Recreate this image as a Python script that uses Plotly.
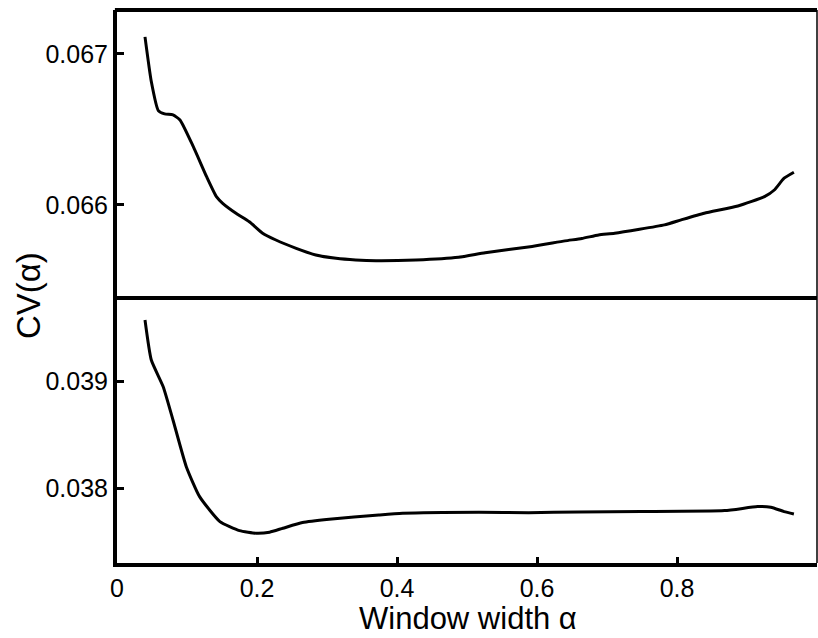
import plotly.graph_objects as go

# ---- data ----
alpha_top = [0.040, 0.049, 0.059, 0.068, 0.080, 0.090, 0.109, 0.128, 0.142, 0.151,
             0.170, 0.189, 0.208, 0.227, 0.256, 0.284, 0.313, 0.341, 0.370, 0.427,
             0.488, 0.526, 0.593, 0.640, 0.664, 0.688, 0.711, 0.782, 0.806, 0.839,
             0.887, 0.925, 0.939, 0.953, 0.967]
cv_top = [0.067113, 0.066817, 0.066625, 0.066603, 0.066596, 0.066563, 0.066386, 0.066187,
          0.066055, 0.066011, 0.065945, 0.065889, 0.065813, 0.065768, 0.065713, 0.065669,
          0.065647, 0.065636, 0.065631, 0.065636, 0.065654, 0.065684, 0.065725, 0.065762,
          0.065778, 0.065801, 0.065813, 0.065868, 0.065901, 0.065945, 0.065993, 0.066055,
          0.066099, 0.066177, 0.066217]

alpha_bot = [0.040, 0.049, 0.066, 0.080, 0.099, 0.118, 0.147, 0.175, 0.199, 0.218,
             0.237, 0.265, 0.303, 0.374, 0.408, 0.517, 0.588, 0.659, 0.749, 0.868,
             0.915, 0.934, 0.953, 0.967]
cv_bot = [0.039578, 0.039203, 0.038953, 0.038641, 0.038203, 0.037922, 0.037688, 0.037603,
          0.037579, 0.037589, 0.037626, 0.037679, 0.037710, 0.037750, 0.037766, 0.037776,
          0.037772, 0.037779, 0.037782, 0.037791, 0.037829, 0.037823, 0.037782, 0.037760]

x_ticks = [0, 0.2, 0.4, 0.6, 0.8, 1]
x_tick_text = ["0", "0.2", "0.4", "0.6", "0.8", "1"]
y_top_ticks = [0.066, 0.067]
y_top_text = ["0.066", "0.067"]
y_bot_ticks = [0.038, 0.039]
y_bot_text = ["0.038", "0.039"]

x_title = "Window width \u03b1"
y_title = "CV(\u03b1)"

# ---- figure ----
FONT = "Liberation Sans, Arial, sans-serif"
split = 0.4828
y_top_range = [0.065397, 0.067291]
y_bot_range = [0.0373, 0.039803]

fig = go.Figure()
fig.add_trace(go.Scatter(x=alpha_top, y=cv_top, mode="lines", xaxis="x", yaxis="y",
                         line=dict(color="black", width=3, shape="spline", smoothing=0.5),
                         showlegend=False, hoverinfo="skip"))
fig.add_trace(go.Scatter(x=alpha_bot, y=cv_bot, mode="lines", xaxis="x2", yaxis="y2",
                         line=dict(color="black", width=3, shape="spline", smoothing=0.5),
                         showlegend=False, hoverinfo="skip"))

tickfont = dict(family=FONT, size=25, color="black")

fig.update_layout(
    width=818, height=638,
    margin=dict(l=117, r=1, t=10, b=75),
    paper_bgcolor="white", plot_bgcolor="white",
    font=dict(family=FONT, color="black"),
    xaxis=dict(domain=[0, 1], range=[0, 1], anchor="y", showgrid=False, zeroline=False,
               showticklabels=False, ticks="", showline=True, linecolor="black", linewidth=4),
    yaxis=dict(domain=[split, 1], range=y_top_range, anchor="x", showgrid=False, zeroline=False,
               tickvals=y_top_ticks, ticktext=y_top_text, ticks="inside", ticklen=7,
               tickwidth=3, tickcolor="black", tickfont=tickfont,
               showline=True, linecolor="black", linewidth=4),
    yaxis3=dict(overlaying="y", side="right", anchor="x", range=y_top_range,
                showgrid=False, zeroline=False, tickvals=y_top_ticks, ticks="inside",
                ticklen=6, tickwidth=3, tickcolor="black", showticklabels=False, showline=False),
    xaxis2=dict(domain=[0, 1], range=[0, 1], anchor="y2", showgrid=False, zeroline=False,
                tickvals=x_ticks, ticktext=x_tick_text, ticks="inside", ticklen=6,
                tickwidth=3, tickcolor="black", tickfont=tickfont,
                showline=True, linecolor="black", linewidth=4),
    xaxis3=dict(overlaying="x2", side="top", anchor="y2", range=[0, 1], showgrid=False,
                zeroline=False, tickvals=x_ticks, ticks="inside", ticklen=6, tickwidth=3,
                tickcolor="black", showticklabels=False, showline=False),
    yaxis2=dict(domain=[0, split], range=y_bot_range, anchor="x2", showgrid=False, zeroline=False,
                tickvals=y_bot_ticks, ticktext=y_bot_text, ticks="inside", ticklen=7,
                tickwidth=3, tickcolor="black", tickfont=tickfont,
                showline=True, linecolor="black", linewidth=4),
    yaxis4=dict(overlaying="y2", side="right", anchor="x2", range=y_bot_range,
                showgrid=False, zeroline=False, tickvals=y_bot_ticks, ticks="inside",
                ticklen=6, tickwidth=3, tickcolor="black", showticklabels=False, showline=False),
    shapes=[
        dict(type="line", xref="paper", yref="paper", x0=-0.003, x1=1, y0=1, y1=1,
             line=dict(color="black", width=4)),
        dict(type="line", xref="paper", yref="paper", x0=1, x1=1, y0=0, y1=1,
             line=dict(color="black", width=1.5)),
    ],
    annotations=[
        dict(text=x_title, xref="paper", yref="paper", x=0.502, y=-0.1, xanchor="center",
             yanchor="middle", showarrow=False, font=dict(family=FONT, size=31, color="black")),
        dict(text=y_title, xref="paper", yref="paper", x=-0.127, y=split, xanchor="center",
             yanchor="middle", textangle=-90, showarrow=False,
             font=dict(family=FONT, size=33, color="black")),
    ],
)

fig.write_html(
    "out.html",
    config={"displayModeBar": False},
    post_script="document.body.style.margin='0px';document.body.style.overflow='hidden';",
)
